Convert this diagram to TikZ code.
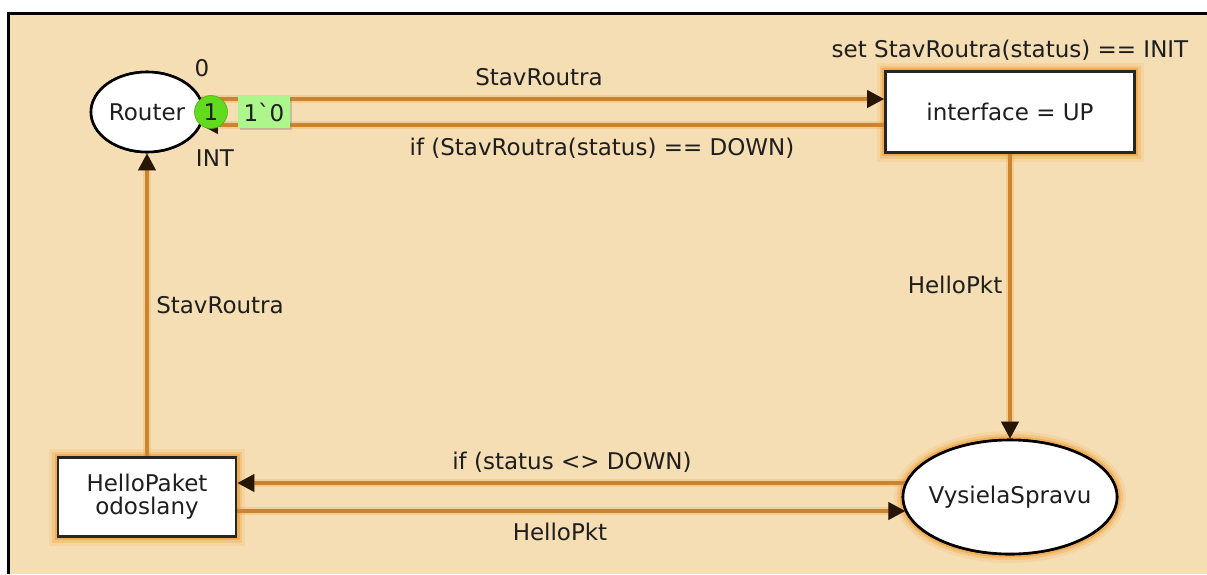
\documentclass[tikz,border=0pt]{standalone}
\usepackage{fontspec}
\setmainfont{DejaVu Sans}
\newfontfamily\tokfont{DejaVu Sans}
\usetikzlibrary{arrows.meta,shapes.geometric,shadows}

\definecolor{paper}{RGB}{245,222,179}
\definecolor{arccol}{RGB}{204,132,48}
\definecolor{halo}{RGB}{240,150,40}
\definecolor{tipcol}{RGB}{40,22,4}
\definecolor{ink}{RGB}{30,30,30}
\definecolor{tokgreen}{RGB}{98,218,30}
\definecolor{marking}{RGB}{172,246,140}

\tikzset{
  netfont/.style={font=\fontsize{23}{27}\selectfont, text=ink},
  place/.style={ellipse, draw=black, line width=2.6pt, fill=white, inner xsep=-20pt, inner ysep=0pt, netfont},
  trans/.style={rectangle, draw=black!85, line width=2.6pt, fill=white, inner sep=0pt, netfont, align=center},
  glow/.style={
    preaction={draw=halo, line width=18pt, draw opacity=0.12},
    preaction={draw=halo, line width=12pt, draw opacity=0.25},
    preaction={draw=halo, line width=7pt, draw opacity=0.5}},
  arc/.style={draw=arccol, line width=3.6pt,
    preaction={draw=halo, line width=8pt, draw opacity=0.22},
    -{Triangle[length=17pt,width=17pt,fill=tipcol,color=tipcol]}},
  lbl/.style={netfont, inner sep=0pt},
}

\begin{document}
\begin{tikzpicture}[x=1pt,y=-1pt]
\useasboundingbox (0,0) rectangle (1207,574);
% page and frame
\fill[white] (0,0) rectangle (1207,574);
\fill[paper] (8,13) rectangle (1207,574);
\draw[black, line width=3pt] (8.5,574) -- (8.5,13.5) -- (1207,13.5);

% places and transitions
\node[place, minimum width=112pt, minimum height=80pt] (router) at (147,112) {Router};
\node[trans, glow, minimum width=249pt, minimum height=81pt] (iface) at (1010,112) {interface = UP};
\node[place, glow, minimum width=214pt, minimum height=114pt] (vys) at (1010,497) {VysielaSpravu};
\node[trans, glow, minimum width=178pt, minimum height=79pt] (hp) at (147,497) {HelloPaket\\[-4pt]odoslany};

% arcs
\draw[arc] ([xshift=-3pt,yshift=13pt]router.east) -- ([yshift=13pt]iface.west);
\draw[arc] ([yshift=-13pt]iface.west) -- ([xshift=-3.5pt,yshift=-13pt]router.east);
\draw[arc] (iface.south) -- (vys.north);
\draw[arc] ([xshift=3.7pt,yshift=14pt]vys.west) -- ([yshift=14pt]hp.east);
\draw[arc] ([yshift=-14pt]hp.east) -- ([xshift=3.7pt,yshift=-14pt]vys.west);
\draw[arc] (hp.north) -- (router.south);

% redraw the node bodies over the arc halos
\node[place, minimum width=112pt, minimum height=80pt] at (router) {Router};
\node[place, minimum width=214pt, minimum height=114pt] at (vys) {VysielaSpravu};
\node[trans, minimum width=249pt, minimum height=81pt] at (iface) {interface = UP};
\node[trans, minimum width=178pt, minimum height=79pt] at (hp) {HelloPaket\\[-4pt]odoslany};

% marking of Router
\node[rectangle, fill=marking, minimum width=52pt, minimum height=32pt, inner sep=0pt,
      netfont, drop shadow={shadow xshift=2pt, shadow yshift=-2pt, opacity=0.35}]
      (mark) at (264,112) {\tokfont 1`0};
\node[circle, fill=tokgreen, draw=tokgreen!80!black, line width=0.6pt,
      minimum size=33pt, inner sep=0pt, netfont] (tok) at (211,112) {1};

% inscriptions
\node[lbl] (init) at (202,68) {0};
\node[lbl] (type) at (215,158) {INT};
\node[lbl] (guard) at (1010,50) {set StavRoutra(status) == INIT};
\node[lbl] (a1) at (539,77) {StavRoutra};
\node[lbl] (a2) at (602,148) {if (StavRoutra(status) == DOWN)};
\node[lbl] (a3) at (955,285) {HelloPkt};
\node[lbl] (a4) at (572,462) {if (status <> DOWN)};
\node[lbl] (a5) at (560,532) {HelloPkt};
\node[lbl] (a6) at (220,305) {StavRoutra};
\end{tikzpicture}
\end{document}
